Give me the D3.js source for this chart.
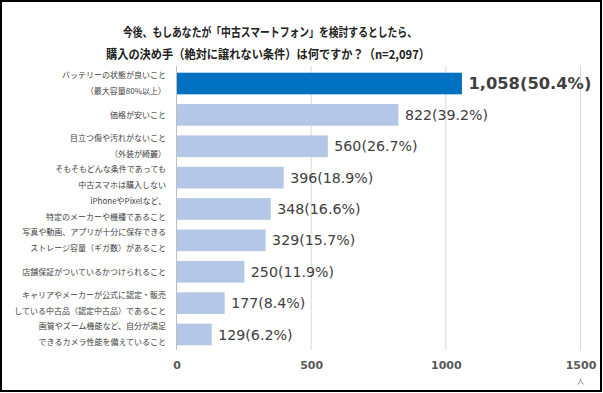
<!DOCTYPE html>
<html><head><meta charset="utf-8">
<script src="https://cdn.jsdelivr.net/npm/d3@7"></script>
<style>body{margin:0;background:#fff}svg{display:block}</style>
</head><body>
<script>
const categories = [
  ["バッテリーの状態が良いこと","（最大容量80%以上）"],
  ["価格が安いこと"],
  ["目立つ傷や汚れがないこと","（外装が綺麗）"],
  ["そもそもどんな条件であっても","中古スマホは購入しない"],
  ["iPhoneやPixelなど、","特定のメーカーや機種であること"],
  ["写真や動画、アプリが十分に保存できる","ストレージ容量（ギガ数）があること"],
  ["店舗保証がついているかつけられること"],
  ["キャリアやメーカーが公式に認定・販売","している中古品（認定中古品）であること"],
  ["画質やズーム機能など、自分が満足","できるカメラ性能を備えていること"]
];
const values = [1058, 822, 560, 396, 348, 329, 250, 177, 129];
const percents = ["50.4%","39.2%","26.7%","18.9%","16.6%","15.7%","11.9%","8.4%","6.2%"];
const ticks = [0, 500, 1000, 1500];
const titleLines = ["今後、もしあなたが「中古スマートフォン」を検討するとしたら、","購入の決め手（絶対に譲れない条件）は何ですか？（n=2,097）"];

const W = 603, H = 393;
const svg = d3.select("body").append("svg").attr("width", W).attr("height", H);
const font = "'Noto Sans CJK JP','Noto Sans',sans-serif";
const numFont = "'DejaVu Sans',Verdana,sans-serif";

svg.append("rect").attr("x",1).attr("y",1).attr("width",600).attr("height",390)
  .attr("fill","#fff").attr("stroke","#000").attr("stroke-width",2);

const titleWidths = [294, 324];
svg.selectAll("text.title").data(titleLines).join("text")
  .attr("x", (d,i)=>[123,106][i]).attr("y", (d,i)=>37+i*22)
  .attr("textLength", (d,i)=>titleWidths[i]).attr("lengthAdjust","spacingAndGlyphs")
  .attr("font-family", font).attr("font-size", 12.5).attr("font-weight","bold")
  .attr("fill","#222").text(d=>d);

const x = d3.scaleLinear().domain([0,1500]).range([176.5, 580.5]);
const y = d3.scaleBand().domain(d3.range(categories.length)).range([68, 350]).paddingInner(0.31).paddingOuter(0.15);

const g = svg.append("g");
g.selectAll("line.grid").data(ticks.slice(1)).join("line")
  .attr("x1", d=>x(d)).attr("x2", d=>x(d)).attr("y1", 66).attr("y2", 350)
  .attr("stroke","#d9d9d9").attr("stroke-width",1);
g.append("line").attr("x1", x(0)).attr("x2", x(0)).attr("y1",66).attr("y2",350)
  .attr("stroke","#bfbfbf").attr("stroke-width",1);

g.selectAll("rect.bar").data(values).join("rect")
  .attr("x", x(0)+0.5).attr("y", (d,i)=>y(i)).attr("width", d=>x(d)-x(0)).attr("height", y.bandwidth())
  .attr("fill", (d,i)=> i===0 ? "#0070C0" : "#B4C7E7");

g.selectAll("text.val").data(values).join("text")
  .attr("x", d=>x(d)+ 7).attr("y", (d,i)=>y(i)+y.bandwidth()/2)
  .attr("dy","0.36em")
  .attr("font-family", numFont)
  .attr("font-size", (d,i)=> i===0 ? 16.3 : 14.2)
  .attr("font-weight", (d,i)=> i===0 ? "bold" : "normal")
  .attr("fill","#404040")
  .text((d,i)=> d3.format(",")(d) + "(" + percents[i] + ")");

const cat = g.selectAll("text.cat").data(categories).join("text")
  .attr("text-anchor","end").attr("font-family", font).attr("font-size", 8)
  .attr("fill","#404040");
cat.each(function(lines,i){
  const t = d3.select(this);
  const cy = y(i)+y.bandwidth()/2;
  const lh = 16;
  lines.forEach((l,k)=>{
    t.append("tspan").attr("x", 166)
     .attr("y", cy + (k - (lines.length-1)/2)*lh).attr("dy","0.35em").text(l);
  });
});

const xAxis = d3.axisBottom(x).tickValues(ticks).tickSize(0).tickFormat(d3.format("d"));
const ax = svg.append("g").attr("transform","translate(0,358)").call(xAxis);
ax.select(".domain").remove();
ax.selectAll("text").attr("font-family", numFont)
  .attr("font-size",11).attr("font-weight","bold").attr("fill","#595959");
svg.append("text").attr("x", x(1500)).attr("y", 384).attr("text-anchor","middle")
  .attr("font-family", font).attr("font-size",7.5).attr("fill","#808080").text("人");
</script>
</body></html>
